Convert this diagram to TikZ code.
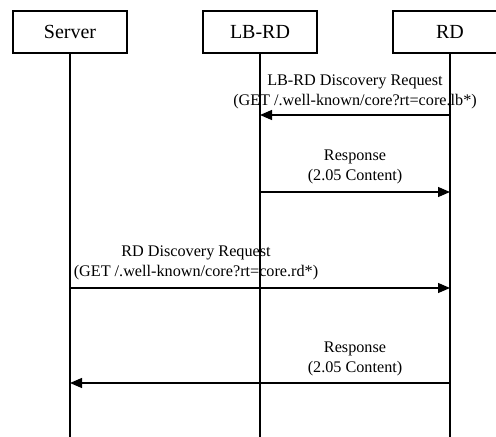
\documentclass[tikz,border=0pt]{standalone}
\usepackage{fontspec}
\setmainfont{Liberation Serif}
\usetikzlibrary{arrows.meta}
\begin{document}
\begin{tikzpicture}[x=1pt,y=-1pt,
  actor/.style={draw,line width=1.2pt,minimum width=114pt,minimum height=42pt,inner sep=0pt,font=\fontsize{20}{24}\selectfont},
  life/.style={line width=1.2pt},
  msg/.style={line width=1.2pt,-{Triangle[length=12pt,width=10pt]}},
  lbl/.style={align=center,font=\fontsize{16.2}{19.5}\selectfont,inner sep=0pt}]
\useasboundingbox (0,0) rectangle (496,437);
\node[actor] (server) at (70,32) {Server};
\node[actor] (lbrd) at (260,32) {LB-RD};
\node[actor] (rd) at (450,32) {RD};
\coordinate (serverend) at (70,437);
\coordinate (lbrdend) at (260,437);
\coordinate (rdend) at (450,437);
\draw[life] (server.south) -- (serverend);
\draw[life] (lbrd.south) -- (lbrdend);
\draw[life] (rd.south) -- (rdend);
% messages
\coordinate (m1s) at (450,115); \coordinate (m1e) at (260,115);
\coordinate (m2s) at (260,192); \coordinate (m2e) at (450,192);
\coordinate (m3s) at (70,288);  \coordinate (m3e) at (450,288);
\coordinate (m4s) at (450,383); \coordinate (m4e) at (70,383);
\draw[msg] (m1s) -- (m1e);
\draw[msg] (m2s) -- (m2e);
\draw[msg] (m3s) -- (m3e);
\draw[msg] (m4s) -- (m4e);
\node[lbl] (l1) at (355,92) {LB-RD Discovery Request\\(GET /.well-known/core?rt=core.lb*)};
\node[lbl] (l2) at (355,167) {Response\\(2.05 Content)};
\node[lbl] (l3) at (196,263) {RD Discovery Request\\(GET /.well-known/core?rt=core.rd*)};
\node[lbl] (l4) at (355,359) {Response\\(2.05 Content)};
\end{tikzpicture}
\end{document}
